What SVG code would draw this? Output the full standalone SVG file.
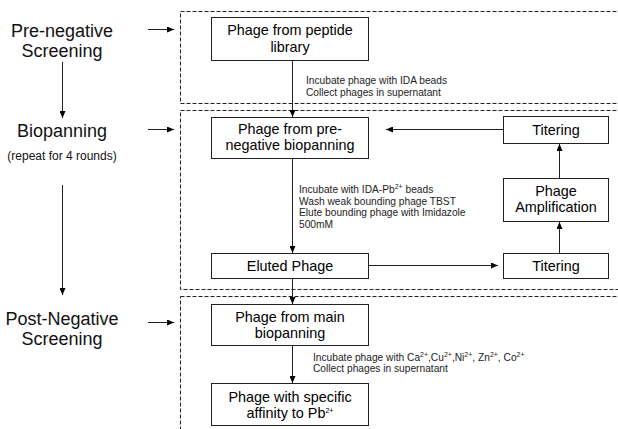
<svg xmlns="http://www.w3.org/2000/svg" width="618" height="429" viewBox="0 0 618 429">
<style>
.stage{font-family:"Liberation Sans",Arial,sans-serif;font-size:18px;fill:#111;text-anchor:middle}
.small{font-family:"Liberation Sans",Arial,sans-serif;font-size:12px;fill:#111;text-anchor:middle}
.node rect{fill:#fff;stroke:#222;stroke-width:1}
.node text{font-family:"Liberation Sans",Arial,sans-serif;font-size:14.4px;fill:#000;text-anchor:middle}
.note{font-family:"Liberation Sans",Arial,sans-serif;font-size:10.2px;fill:#222}
.sup{font-size:7px}
.dash{fill:none;stroke:#222;stroke-width:1;stroke-dasharray:4,2}
.conn{fill:none;stroke:#222;stroke-width:1}
</style>
<defs>
<marker id="ah" markerWidth="7" markerHeight="6" refX="7" refY="3" orient="auto" markerUnits="userSpaceOnUse">
<path d="M0,0 L7,3 L0,6 z" fill="#000"/>
</marker>
</defs>
<rect width="618" height="429" fill="#fff"/>

<g id="regions">
<rect class="dash" x="180.5" y="11.5" width="460" height="92"/>
<rect class="dash" x="180.5" y="110.5" width="460" height="179"/>
<rect class="dash" x="180.5" y="296.5" width="460" height="150"/>
</g>

<g id="stage-labels">
<text class="stage" x="62" y="37">Pre-negative</text>
<text class="stage" x="62" y="57">Screening</text>
<text class="stage" x="62" y="137">Biopanning</text>
<text class="small" x="62" y="160">(repeat for 4 rounds)</text>
<text class="stage" x="62" y="325">Post-Negative</text>
<text class="stage" x="62" y="345">Screening</text>
</g>

<g id="n1" class="node">
<rect x="211.5" y="17.5" width="157" height="43"/>
<text x="290" y="35">Phage from peptide</text>
<text x="290" y="52">library</text>
</g>
<g id="n2" class="node">
<rect x="211.5" y="117.5" width="157" height="41"/>
<text x="290" y="134">Phage from pre-</text>
<text x="290" y="150">negative biopanning</text>
</g>
<g id="t1" class="node">
<rect x="503.5" y="116.5" width="105" height="27"/>
<text x="556" y="134.5">Titering</text>
</g>
<g id="amp" class="node">
<rect x="503.5" y="178.5" width="105" height="43"/>
<text x="556" y="196">Phage</text>
<text x="556" y="212">Amplification</text>
</g>
<g id="t2" class="node">
<rect x="503.5" y="253.5" width="105" height="25"/>
<text x="556" y="270.5">Titering</text>
</g>
<g id="eluted" class="node">
<rect x="211.5" y="253.5" width="157" height="25"/>
<text x="290" y="270.5">Eluted Phage</text>
</g>
<g id="main" class="node">
<rect x="211.5" y="304.5" width="157" height="41"/>
<text x="290" y="322">Phage from main</text>
<text x="290" y="338">biopanning</text>
</g>
<g id="final" class="node">
<rect x="211.5" y="383.5" width="157" height="42"/>
<text x="290" y="402">Phage with specific</text>
<text x="290" y="418">affinity to Pb<tspan class="sup" dy="-5" font-size="9">2+</tspan></text>
</g>

<g id="notes">
<text class="note" x="306" y="84">Incubate phage with IDA beads</text>
<text class="note" x="306" y="96">Collect phages in supernatant</text>
<text class="note" x="299" y="193">Incubate with IDA-Pb<tspan class="sup" dy="-4">2+</tspan><tspan dy="4"> beads</tspan></text>
<text class="note" x="299" y="204.5">Wash weak bounding phage TBST</text>
<text class="note" x="299" y="216">Elute bounding phage with Imidazole</text>
<text class="note" x="299" y="228">500mM</text>
<text class="note" x="313" y="361">Incubate phage with Ca<tspan class="sup" dy="-4">2+</tspan><tspan dy="4">,Cu</tspan><tspan class="sup" dy="-4">2+</tspan><tspan dy="4">,Ni</tspan><tspan class="sup" dy="-4">2+</tspan><tspan dy="4">, Zn</tspan><tspan class="sup" dy="-4">2+</tspan><tspan dy="4">, Co</tspan><tspan class="sup" dy="-4">2+</tspan></text>
<text class="note" x="313" y="372">Collect phages in supernatant</text>
</g>

<g id="connectors">
<line class="conn" x1="148" y1="29.5" x2="174" y2="29.5" marker-end="url(#ah)"/>
<line class="conn" x1="148" y1="129.5" x2="174" y2="129.5" marker-end="url(#ah)"/>
<line class="conn" x1="148" y1="322.5" x2="174" y2="322.5" marker-end="url(#ah)"/>
<line class="conn" x1="62.5" y1="62" x2="62.5" y2="118" marker-end="url(#ah)"/>
<line class="conn" x1="62.5" y1="185" x2="62.5" y2="295" marker-end="url(#ah)"/>
<line class="conn" x1="292.5" y1="61" x2="292.5" y2="117" marker-end="url(#ah)"/>
<line class="conn" x1="292.5" y1="159" x2="292.5" y2="253" marker-end="url(#ah)"/>
<line class="conn" x1="292.5" y1="279" x2="292.5" y2="304" marker-end="url(#ah)"/>
<line class="conn" x1="292.5" y1="346" x2="292.5" y2="383" marker-end="url(#ah)"/>
<line class="conn" x1="369" y1="265.5" x2="498" y2="265.5" marker-end="url(#ah)"/>
<line class="conn" x1="559.5" y1="253" x2="559.5" y2="222" marker-end="url(#ah)"/>
<line class="conn" x1="559.5" y1="178" x2="559.5" y2="144" marker-end="url(#ah)"/>
<line class="conn" x1="503" y1="129.5" x2="386" y2="129.5" marker-end="url(#ah)"/>
</g>
</svg>
